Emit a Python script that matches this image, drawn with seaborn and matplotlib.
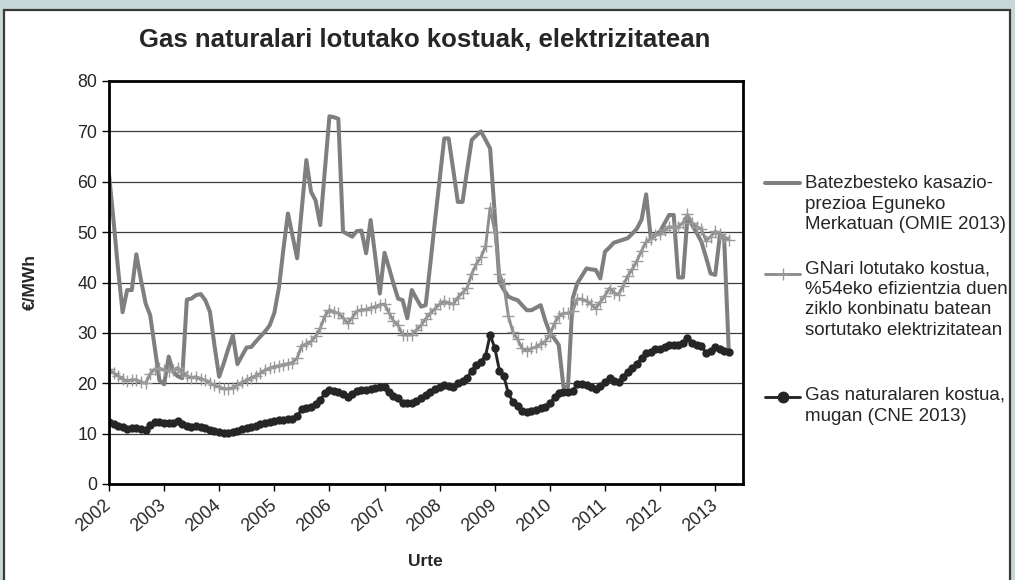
import pandas as pd
import matplotlib.pyplot as plt
import seaborn as sns
from matplotlib.lines import Line2D
from matplotlib.patches import Rectangle

# hileko datuak, 2002-01 .. 2013-04
hasiera = "2002-01-01"
hilabete_kop = 136
urteak = list(range(2002, 2014))

omie = [61.5, 52.0, 43.0, 34.1, 38.5, 38.5, 45.6, 40.5, 35.8, 33.5,
        27.0, 20.6, 19.8, 25.3, 22.3, 21.4, 21.0, 36.6, 36.8, 37.5,
        37.7, 36.5, 34.2, 27.5, 21.3, 24.0, 26.8, 29.5, 23.8, 25.5,
        27.1, 27.2, 28.3, 29.3, 30.3, 31.5, 34.0, 39.1, 46.4, 53.7,
        49.3, 44.8, 54.5, 64.3, 58.0, 56.3, 51.4, 62.0, 73.0, 72.8,
        72.5, 50.1, 49.6, 49.1, 50.2, 50.3, 45.8, 52.4, 45.1, 37.8,
        45.9, 42.8, 39.8, 36.8, 36.5, 32.9, 38.5, 36.8, 35.2, 35.5,
        43.8, 52.1, 60.3, 68.6, 68.6, 62.3, 56.0, 56.0, 62.2, 68.3,
        69.2, 70.0, 68.3, 66.6, 53.3, 40.1, 38.6, 37.2, 36.8, 36.5,
        35.5, 34.5, 34.5, 35.0, 35.5, 32.5, 30.0, 28.8, 27.6, 19.3,
        19.3, 36.8, 39.8, 41.3, 42.8, 42.6, 42.5, 40.8, 46.1, 47.0,
        47.9, 48.2, 48.5, 48.8, 49.7, 50.7, 52.5, 57.5, 48.8, 49.5,
        50.1, 51.8, 53.4, 53.4, 41.0, 41.0, 53.0, 51.4, 49.8, 48.1,
        45.0, 41.8, 41.5, 49.4, 48.8, 26.1]

gn_elektr = [22.8, 22.0, 21.5, 20.9, 20.4, 20.7, 20.7, 20.2, 20.0, 21.9,
             22.8, 23.0, 22.6, 22.4, 22.6, 23.1, 22.2, 21.5, 21.1, 21.3,
             20.9, 20.6, 20.0, 19.6, 19.3, 18.9, 18.9, 19.1, 19.6, 20.2,
             20.6, 21.1, 21.5, 22.0, 22.6, 23.0, 23.3, 23.5, 23.7, 23.9,
             24.1, 25.0, 27.4, 27.8, 28.3, 29.3, 30.9, 33.3, 34.6, 34.1,
             33.9, 33.0, 31.9, 33.0, 34.3, 34.6, 34.6, 35.0, 35.2, 35.6,
             35.7, 33.9, 32.4, 31.5, 29.6, 29.6, 29.6, 30.6, 31.5, 32.8,
             33.9, 34.8, 35.7, 36.3, 35.9, 35.7, 37.0, 38.0, 38.9, 41.7,
             43.7, 45.0, 47.2, 54.8, 50.0, 41.7, 39.8, 33.3, 30.2, 28.7,
             26.9, 26.5, 26.9, 27.2, 27.8, 28.3, 29.6, 31.9, 33.3, 33.9,
             33.9, 34.3, 36.7, 36.7, 36.3, 35.7, 34.8, 36.1, 37.4, 38.9,
             38.0, 37.6, 39.3, 41.3, 42.6, 44.3, 46.3, 48.1, 48.7, 49.4,
             49.6, 50.4, 51.1, 50.9, 51.1, 51.9, 53.5, 51.9, 51.1, 50.6,
             48.3, 49.1, 50.2, 49.6, 49.1, 48.5]

gn_muga = [12.3, 11.9, 11.6, 11.3, 11.0, 11.2, 11.2, 10.9, 10.8, 11.8,
           12.3, 12.4, 12.2, 12.1, 12.2, 12.5, 12.0, 11.6, 11.4, 11.5,
           11.3, 11.1, 10.8, 10.6, 10.4, 10.2, 10.2, 10.3, 10.6, 10.9,
           11.1, 11.4, 11.6, 11.9, 12.2, 12.4, 12.6, 12.7, 12.8, 12.9,
           13.0, 13.5, 14.8, 15.0, 15.3, 15.8, 16.7, 18.0, 18.7, 18.4,
           18.3, 17.8, 17.2, 17.8, 18.5, 18.7, 18.7, 18.9, 19.0, 19.2,
           19.3, 18.3, 17.5, 17.0, 16.0, 16.0, 16.0, 16.5, 17.0, 17.7,
           18.3, 18.8, 19.3, 19.6, 19.4, 19.3, 20.0, 20.5, 21.0, 22.5,
           23.6, 24.3, 25.5, 29.6, 27.0, 22.5, 21.5, 18.0, 16.3, 15.5,
           14.5, 14.3, 14.5, 14.7, 15.0, 15.3, 16.0, 17.2, 18.0, 18.3,
           18.3, 18.5, 19.8, 19.8, 19.6, 19.3, 18.8, 19.5, 20.2, 21.0,
           20.5, 20.3, 21.2, 22.3, 23.0, 23.9, 25.0, 26.0, 26.3, 26.7,
           26.8, 27.2, 27.6, 27.5, 27.6, 28.0, 28.9, 28.0, 27.6, 27.3,
           26.1, 26.5, 27.1, 26.8, 26.5, 26.2]

etiketak = [
    "Batezbesteko kasazio-\nprezioa Eguneko\nMerkatuan (OMIE 2013)",
    "GNari lotutako kostua,\n%54eko efizientzia duen\nziklo konbinatu batean\nsortutako elektrizitatean",
    "Gas naturalaren kostua,\nmugan (CNE 2013)",
]

df = pd.DataFrame({
    "hilabetea": pd.date_range(hasiera, periods=hilabete_kop, freq="MS"),
    "omie": omie,
    "gn_elektr": gn_elektr,
    "gn_muga": gn_muga,
})

sns.set_style("white")
plt.rcParams["font.family"] = ["Liberation Sans", "DejaVu Sans"]

W, H = 1015, 580
fig = plt.figure(figsize=(W / 100, H / 100), dpi=100, facecolor="#c8d7d7")
fig.patches.append(Rectangle((4 / W, -0.02), (1010 - 4) / W, 1 - 10 / H + 0.02,
                             transform=fig.transFigure, facecolor="white",
                             edgecolor="#3a3a3a", lw=1.6, zorder=-10))

ax = fig.add_axes([109 / W, 1 - 484 / H, (743 - 109) / W, (484 - 81) / H])
ax.set_zorder(1)

c_omie, c_elektr, c_muga = "#7f7f7f", "#8e8e8e", "#262626"
sns.lineplot(data=df, x="hilabetea", y="omie", ax=ax, color=c_omie, lw=2.9)
sns.lineplot(data=df, x="hilabetea", y="gn_elektr", ax=ax, color=c_elektr, lw=2.1,
             marker="+", markersize=8, markeredgewidth=1.0, markeredgecolor="#9a9a9a")
sns.lineplot(data=df, x="hilabetea", y="gn_muga", ax=ax, color=c_muga, lw=2.1,
             marker="o", markersize=6, markeredgewidth=0, markerfacecolor=c_muga)

ax.set_ylim(0, 80)
ax.set_yticks(range(0, 81, 10))
ax.set_xlim(pd.Timestamp("2002-01-01"), pd.Timestamp("2013-07-04"))
ax.set_xticks([pd.Timestamp(f"{u}-01-01") for u in urteak])
ax.set_xticklabels([str(u) for u in urteak])
for lab in ax.get_xticklabels():
    lab.set_rotation(40)
    lab.set_ha("right")
    lab.set_va("center")
    lab.set_rotation_mode("anchor")
ax.set_xlabel("")
ax.set_ylabel("")
ax.yaxis.grid(True, color="#3c3c3c", lw=0.9)
ax.set_axisbelow(True)
for s in ax.spines.values():
    s.set_visible(True)
    s.set_color("black")
    s.set_linewidth(2)
ax.tick_params(direction="out", length=5, width=1, color="black", labelsize=12.8,
               left=True, bottom=True)
ax.tick_params(axis="x", pad=9)

fig.text(425 / W, 1 - 40 / H, "Gas naturalari lotutako kostuak, elektrizitatean",
         ha="center", va="center", fontsize=18.5, fontweight="bold")
fig.text(30 / W, 1 - 282 / H, "€/MWh", rotation=90, ha="center", va="center",
         fontsize=12.5, fontweight="bold")
fig.text(425 / W, 1 - 562 / H, "Urte", ha="center", va="center",
         fontsize=12.5, fontweight="bold")

# legenda, Excel erara: marra testuaren lehen lerroarekin
marra_y = [183, 274, 397]
testu_y = [175, 260, 387]
estiloak = [
    dict(color=c_omie, lw=2.9),
    dict(color=c_elektr, lw=2.1, marker="+", markersize=8, markeredgecolor="#9a9a9a"),
    dict(color=c_muga, lw=2.1, marker="o", markersize=7.5),
]
for my, ty, est, lab in zip(marra_y, testu_y, estiloak, etiketak):
    fy = 1 - my / H
    fig.add_artist(Line2D([765 / W, 800 / W], [fy, fy], transform=fig.transFigure,
                          color=est["color"], lw=est["lw"]))
    if "marker" in est:
        fig.add_artist(Line2D([782.5 / W], [fy], transform=fig.transFigure, lw=0,
                              marker=est["marker"], markersize=est["markersize"],
                              color=est["color"],
                              markeredgecolor=est.get("markeredgecolor", est["color"])))
    fig.text(805 / W, 1 - ty / H, lab, ha="left", va="top",
             fontsize=13.5, linespacing=1.28)

plt.savefig("out.png", dpi=100, facecolor=fig.get_facecolor())
